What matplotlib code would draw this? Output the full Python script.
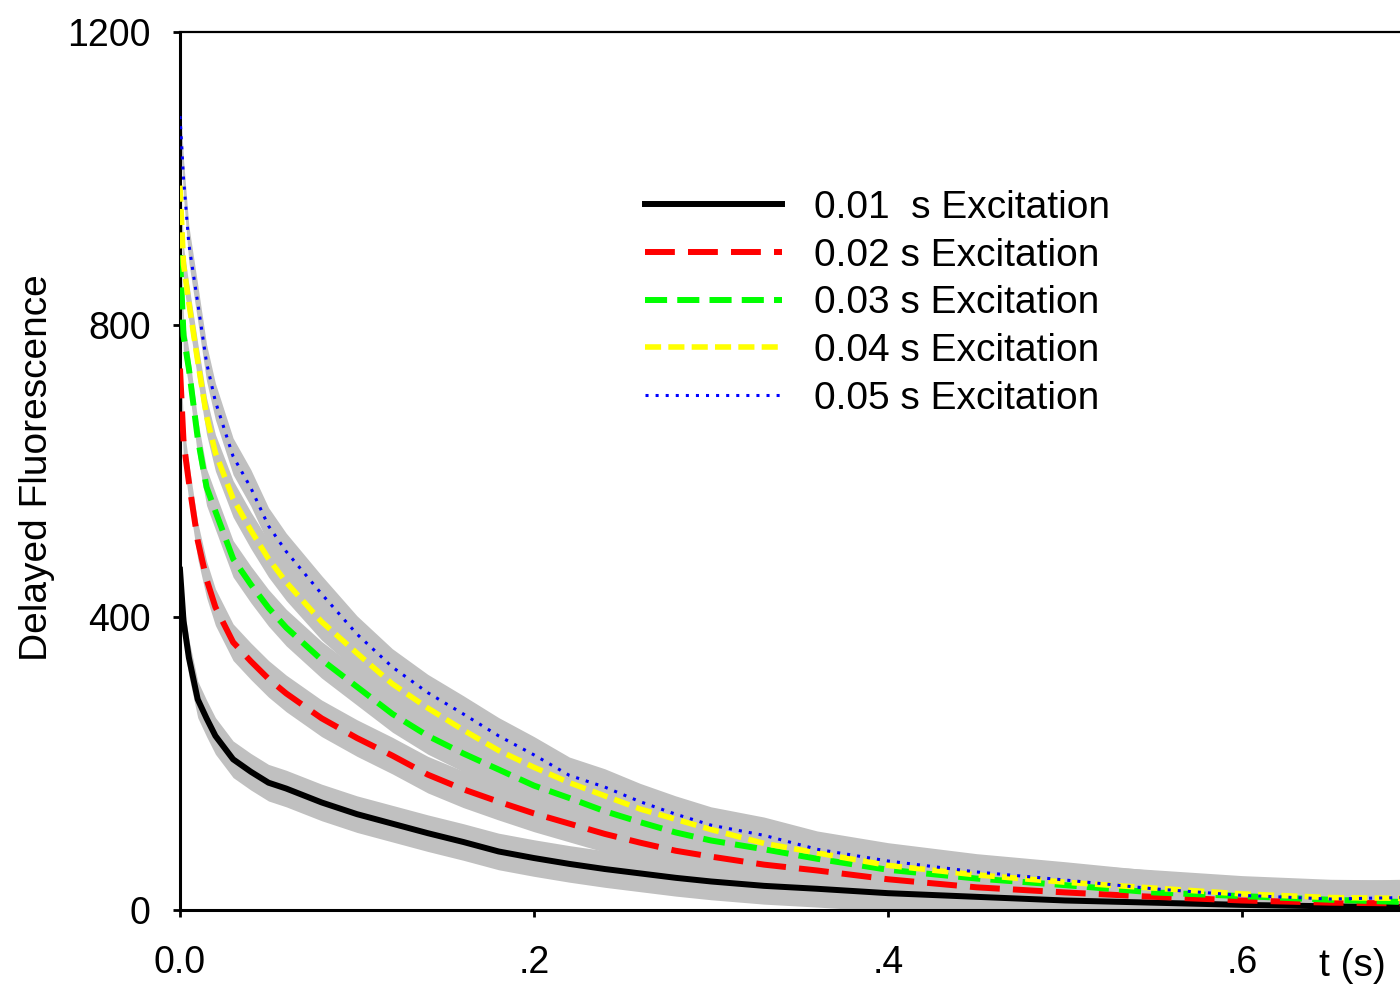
import numpy as np
import matplotlib
matplotlib.use("Agg")
import matplotlib.pyplot as plt

plt.rcParams['font.family'] = ['Liberation Sans', 'DejaVu Sans']

# time axis (s)
t = [0.0, 0.002, 0.005, 0.01, 0.015, 0.02, 0.03, 0.04, 0.05, 0.06, 0.08,
     0.10, 0.12, 0.14, 0.16, 0.18, 0.20, 0.22, 0.24, 0.26, 0.28, 0.30,
     0.33, 0.36, 0.40, 0.45, 0.50, 0.55, 0.60, 0.65, 0.69]

# delayed fluorescence for each excitation length
df_001 = [465, 395, 345, 288, 262, 238, 206, 189, 174, 166, 147,
          131, 118, 105, 93, 80, 71, 63, 56, 50, 44, 39,
          33, 29, 23, 18, 13, 10, 7, 5, 4]
df_002 = [740, 640, 585, 505, 452, 414, 366, 340, 316, 296, 262,
          235, 211, 185, 165, 148, 132, 118, 104, 92, 81, 73,
          62, 54, 42, 31, 24, 18, 13, 10, 9]
df_003 = [895, 785, 740, 645, 578, 545, 480, 445, 413, 386, 342,
          305, 268, 238, 214, 192, 170, 153, 135, 120, 106, 95,
          83, 70, 55, 43, 34, 24, 19, 14, 11]
df_004 = [990, 882, 830, 750, 675, 625, 562, 519, 480, 448, 394,
          351, 309, 276, 246, 218, 195, 174, 156, 138, 124, 110,
          91, 78, 61, 48, 38, 30, 22, 17, 16]
df_005 = [1085, 1000, 910, 830, 748, 695, 620, 577, 525, 490, 432,
          377, 332, 297, 268, 238, 212, 184, 168, 148, 131, 116,
          102, 83, 67, 52, 41, 29, 20, 15, 17]

labels = ['0.01  s Excitation', '0.02 s Excitation', '0.03 s Excitation',
          '0.04 s Excitation', '0.05 s Excitation']
noise_halfwidth = 25  # spread of the raw (grey) traces

series = [df_001, df_002, df_003, df_004, df_005]
styles = [
    dict(color='#000000', lw=4.3, linestyle='-'),
    dict(color='#ff0000', lw=4.3, linestyle=(0, (5, 2.2))),
    dict(color='#00ff00', lw=4.3, linestyle=(0, (3.7, 1.7))),
    dict(color='#ffff00', lw=4.0, linestyle=(0, (2.9, 1.3))),
    dict(color='#0000ff', lw=2.2, linestyle=(0, (1, 2.3))),
]

fig = plt.figure(figsize=(14, 9.86), dpi=100)
ax = fig.add_axes([180 / 1400, 1 - 910 / 986, 1 - 180 / 1400, (910 - 32) / 986])

tt = np.array(t)
for ys in series:
    ys = np.array(ys)
    ax.fill_between(tt, ys - noise_halfwidth, ys + noise_halfwidth,
                    color='#c0c0c0', lw=0, zorder=1)

for i, (ys, st) in enumerate(zip(series, styles)):
    ax.plot(t, ys, label=labels[i], zorder=3 + i, **st)

ax.set_xlim(0, (1400 - 180) / 1770)
ax.set_ylim(0, 1200)

ax.set_xticks([0.0, 0.2, 0.4, 0.6])
ax.set_xticklabels(['0.0', '.2', '.4', '.6'])
ax.set_yticks([0, 400, 800, 1200])
ax.set_yticklabels(['0', '400', '800', '1200'])
ax.tick_params(axis='both', direction='out', length=5, width=2,
               labelsize=27, colors='black')
ax.tick_params(axis='y', pad=16)
ax.tick_params(axis='x', pad=20)

ax.spines['right'].set_visible(False)
ax.spines['left'].set_linewidth(2.2)
ax.spines['bottom'].set_linewidth(2.2)
ax.spines['top'].set_linewidth(1.6)

fig.text(37 / 1400, 1 - 468 / 986, 'Delayed Fluorescence', rotation=90,
         ha='center', va='center', fontsize=28)
fig.text(1352 / 1400, 1 - 966 / 986, 't (s)', ha='center', va='center',
         fontsize=28)

ax.legend(loc='upper left', bbox_to_anchor=(645 / 1400, 1 - 190 / 986),
          bbox_transform=fig.transFigure, frameon=False, fontsize=28,
          borderpad=0, borderaxespad=0, handlelength=3.52,
          handletextpad=0.82, labelspacing=0.3)

fig.savefig('out.png', dpi=100)
